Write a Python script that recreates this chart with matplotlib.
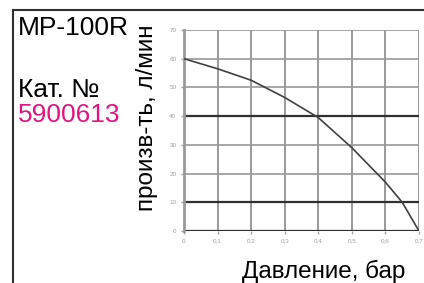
import matplotlib.pyplot as plt
from matplotlib.lines import Line2D

plt.rcParams['font.family'] = ['Liberation Sans', 'DejaVu Sans']

# pump curve MP-100R
pressure = [0.0, 0.1, 0.2, 0.3, 0.4, 0.5, 0.6, 0.65, 0.7]
flow = [60, 56.5, 52.5, 46.5, 39.5, 29, 17, 10, 0]

x_ticks = [0, 0.1, 0.2, 0.3, 0.4, 0.5, 0.6, 0.7]
x_labels = ['0', '0,1', '0,2', '0,3', '0,4', '0,5', '0,6', '0,7']
y_ticks = [0, 10, 20, 30, 40, 50, 60, 70]
dark_lines = [0, 10, 40]

fig = plt.figure(figsize=(4.24, 2.83), dpi=100)
ax = fig.add_axes([184 / 424, 1 - 231 / 283, 235 / 424, 201 / 283])

for y in y_ticks:
    if y in dark_lines:
        ax.axhline(y, color='#303030', lw=1.6, zorder=2)
    else:
        ax.axhline(y, color='#a0a0a0', lw=1.3, zorder=1)
for x in x_ticks[1:]:
    ax.axvline(x, color='#9a9a9a', lw=1.4, zorder=1)

ax.plot(pressure, flow, color='#404040', lw=1.2, zorder=3)

ax.set_xlim(0, 0.7)
ax.set_ylim(0, 70)
ax.set_xticks(x_ticks)
ax.set_xticklabels(x_labels)
ax.set_yticks(y_ticks)
ax.tick_params(labelsize=4.5, colors='#a0a0a0', length=2, width=1)
for s in ['top', 'right', 'bottom']:
    ax.spines[s].set_visible(False)
ax.spines['left'].set_color('#9a9a9a')
ax.spines['left'].set_linewidth(2)

ax.set_xlabel('Давление, бар', fontsize=17.5)
ax.xaxis.set_label_coords(140 / 235, -29 / 201)
ax.set_ylabel('произв-ть, л/мин', fontsize=17.5)
ax.yaxis.set_label_coords(-26 / 235, 113 / 201)

fig.text(18 / 424, 1 - 35 / 283, 'MP-100R', fontsize=19, va='baseline')
fig.text(18 / 424, 1 - 97 / 283, 'Кат. №', fontsize=19, va='baseline')
fig.text(18 / 424, 1 - 122 / 283, '5900613', fontsize=19, va='baseline', color='#e3147f')

# outer frame (only top and left edges visible)
fig.add_artist(Line2D([12.5 / 424, 1], [1 - 10 / 283, 1 - 10 / 283], color='#303030', lw=1.5))
fig.add_artist(Line2D([12.5 / 424, 12.5 / 424], [0, 1 - 10 / 283], color='#303030', lw=1.5))

fig.savefig('out.png', dpi=100)
